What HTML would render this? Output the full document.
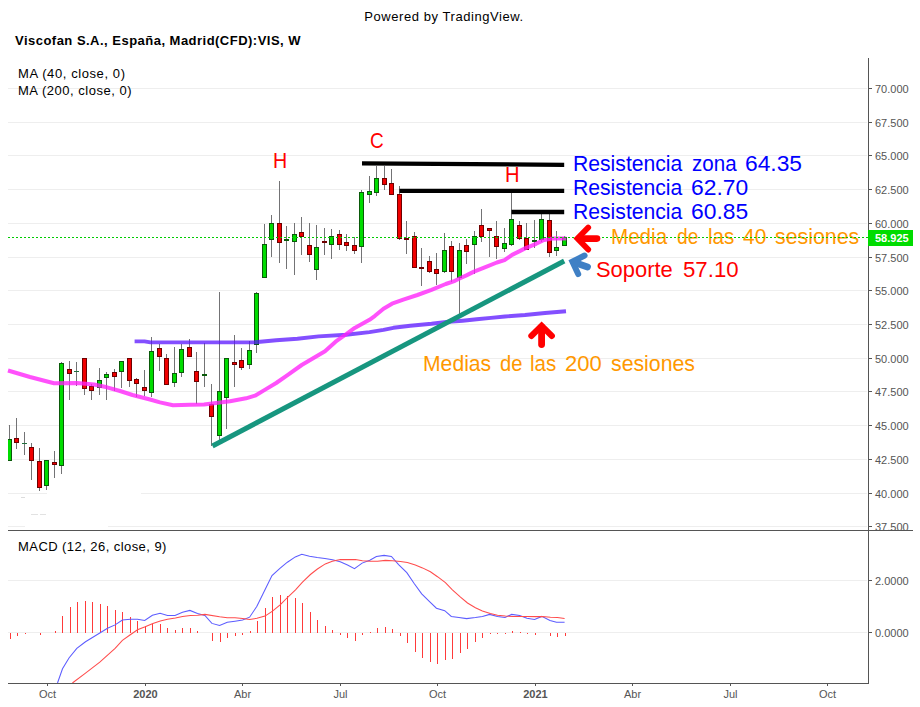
<!DOCTYPE html>
<html><head><meta charset="utf-8"><title>chart</title>
<style>
html,body{margin:0;padding:0;background:#fff;}
body{width:920px;height:707px;position:relative;overflow:hidden;font-family:"Liberation Sans",sans-serif;}
svg{position:absolute;left:0;top:0;}
.t{position:absolute;white-space:nowrap;line-height:1;}
.pl{position:absolute;left:875px;font-size:11px;color:#555;line-height:14px;height:14px;}
.tl{position:absolute;top:688px;width:61px;text-align:center;font-size:11px;color:#555;line-height:13px;}
.an{position:absolute;white-space:nowrap;line-height:1;font-size:21.8px;transform-origin:0 0;}
</style></head><body>
<svg width="920" height="707" viewBox="0 0 920 707" shape-rendering="crispEdges">
<rect x="8" y="88.0" width="859" height="1" fill="#eeeeee"/>
<rect x="868" y="88.0" width="4" height="1" fill="#555"/>
<rect x="8" y="122.0" width="859" height="1" fill="#eeeeee"/>
<rect x="868" y="122.0" width="4" height="1" fill="#555"/>
<rect x="8" y="155.0" width="859" height="1" fill="#eeeeee"/>
<rect x="868" y="155.0" width="4" height="1" fill="#555"/>
<rect x="8" y="189.0" width="859" height="1" fill="#eeeeee"/>
<rect x="868" y="189.0" width="4" height="1" fill="#555"/>
<rect x="8" y="223.0" width="859" height="1" fill="#eeeeee"/>
<rect x="868" y="223.0" width="4" height="1" fill="#555"/>
<rect x="8" y="257.0" width="859" height="1" fill="#eeeeee"/>
<rect x="868" y="257.0" width="4" height="1" fill="#555"/>
<rect x="8" y="290.0" width="859" height="1" fill="#eeeeee"/>
<rect x="868" y="290.0" width="4" height="1" fill="#555"/>
<rect x="8" y="324.0" width="859" height="1" fill="#eeeeee"/>
<rect x="868" y="324.0" width="4" height="1" fill="#555"/>
<rect x="8" y="358.0" width="859" height="1" fill="#eeeeee"/>
<rect x="868" y="358.0" width="4" height="1" fill="#555"/>
<rect x="8" y="391.0" width="859" height="1" fill="#eeeeee"/>
<rect x="868" y="391.0" width="4" height="1" fill="#555"/>
<rect x="8" y="425.0" width="859" height="1" fill="#eeeeee"/>
<rect x="868" y="425.0" width="4" height="1" fill="#555"/>
<rect x="8" y="459.0" width="859" height="1" fill="#eeeeee"/>
<rect x="868" y="459.0" width="4" height="1" fill="#555"/>
<rect x="8" y="493.0" width="859" height="1" fill="#eeeeee"/>
<rect x="868" y="493.0" width="4" height="1" fill="#555"/>
<rect x="8" y="526.0" width="859" height="1" fill="#eeeeee"/>
<rect x="868" y="526.0" width="4" height="1" fill="#555"/>
<rect x="8" y="580.0" width="859" height="1" fill="#eeeeee"/>
<rect x="868" y="580.0" width="4" height="1" fill="#555"/>
<rect x="8" y="632.0" width="859" height="1" fill="#eeeeee"/>
<rect x="868" y="632.0" width="4" height="1" fill="#555"/>
<rect x="47" y="492" width="94" height="3" fill="#fff"/>
<rect x="25" y="525" width="83" height="3" fill="#fff"/>
<rect x="21" y="497" width="4" height="1" fill="#dcdcdc"/>
<rect x="31" y="514" width="7" height="1" fill="#e2e2e2"/><rect x="40" y="514" width="6" height="1" fill="#e2e2e2"/>
</svg>
<svg width="920" height="707" viewBox="0 0 920 707">
<clipPath id="cp"><rect x="8" y="58" width="860" height="472"/></clipPath>
<g shape-rendering="crispEdges" clip-path="url(#cp)">
<rect x="9" y="425" width="1" height="35" fill="#737375"/>
<rect x="7.5" y="439.5" width="4" height="21" fill="#00dc00" stroke="#0a5a0a" stroke-width="1"/>
<rect x="16" y="418" width="1" height="31" fill="#737375"/>
<rect x="14.5" y="438.5" width="4" height="4" fill="#f00000" stroke="#6e0000" stroke-width="1"/>
<rect x="24" y="432" width="1" height="23" fill="#737375"/>
<rect x="22" y="443" width="5" height="1" fill="#1e6e3c"/>
<rect x="31" y="443" width="1" height="37" fill="#737375"/>
<rect x="29.5" y="447.5" width="4" height="13" fill="#f00000" stroke="#6e0000" stroke-width="1"/>
<rect x="39" y="448" width="1" height="43" fill="#737375"/>
<rect x="37.5" y="461.5" width="4" height="26" fill="#f00000" stroke="#6e0000" stroke-width="1"/>
<rect x="46" y="460" width="1" height="30" fill="#737375"/>
<rect x="44.5" y="460.5" width="4" height="25" fill="#00dc00" stroke="#0a5a0a" stroke-width="1"/>
<rect x="54" y="451" width="1" height="27" fill="#737375"/>
<rect x="52.5" y="462.5" width="4" height="2" fill="#f00000" stroke="#6e0000" stroke-width="1"/>
<rect x="61" y="362" width="1" height="112" fill="#737375"/>
<rect x="59.5" y="363.5" width="4" height="102" fill="#00dc00" stroke="#0a5a0a" stroke-width="1"/>
<rect x="69" y="361" width="1" height="39" fill="#737375"/>
<rect x="67.5" y="369.5" width="4" height="4" fill="#f00000" stroke="#6e0000" stroke-width="1"/>
<rect x="76" y="362" width="1" height="24" fill="#737375"/>
<rect x="74" y="371" width="5" height="1" fill="#1e6e3c"/>
<rect x="84" y="358" width="1" height="37" fill="#737375"/>
<rect x="82.5" y="358.5" width="4" height="30" fill="#f00000" stroke="#6e0000" stroke-width="1"/>
<rect x="91" y="384" width="1" height="16" fill="#737375"/>
<rect x="89.5" y="386.5" width="4" height="4" fill="#f00000" stroke="#6e0000" stroke-width="1"/>
<rect x="99" y="368" width="1" height="27" fill="#737375"/>
<rect x="97.5" y="380.5" width="4" height="7" fill="#00dc00" stroke="#0a5a0a" stroke-width="1"/>
<rect x="106" y="372" width="1" height="28" fill="#737375"/>
<rect x="104.5" y="374.5" width="4" height="3" fill="#00dc00" stroke="#0a5a0a" stroke-width="1"/>
<rect x="114" y="369" width="1" height="22" fill="#737375"/>
<rect x="112.5" y="372.5" width="4" height="4" fill="#f00000" stroke="#6e0000" stroke-width="1"/>
<rect x="121" y="361" width="1" height="27" fill="#737375"/>
<rect x="119.5" y="361.5" width="4" height="10" fill="#00dc00" stroke="#0a5a0a" stroke-width="1"/>
<rect x="129" y="358" width="1" height="29" fill="#737375"/>
<rect x="127.5" y="358.5" width="4" height="22" fill="#f00000" stroke="#6e0000" stroke-width="1"/>
<rect x="136" y="378" width="1" height="19" fill="#737375"/>
<rect x="134.5" y="379.5" width="4" height="4" fill="#f00000" stroke="#6e0000" stroke-width="1"/>
<rect x="144" y="370" width="1" height="26" fill="#737375"/>
<rect x="142.5" y="387.5" width="4" height="3" fill="#f00000" stroke="#6e0000" stroke-width="1"/>
<rect x="151" y="337" width="1" height="60" fill="#737375"/>
<rect x="149.5" y="351.5" width="4" height="41" fill="#00dc00" stroke="#0a5a0a" stroke-width="1"/>
<rect x="159" y="344" width="1" height="27" fill="#737375"/>
<rect x="157.5" y="348.5" width="4" height="8" fill="#f00000" stroke="#6e0000" stroke-width="1"/>
<rect x="166" y="354" width="1" height="31" fill="#737375"/>
<rect x="164.5" y="358.5" width="4" height="26" fill="#f00000" stroke="#6e0000" stroke-width="1"/>
<rect x="174" y="347" width="1" height="40" fill="#737375"/>
<rect x="172.5" y="373.5" width="4" height="9" fill="#00dc00" stroke="#0a5a0a" stroke-width="1"/>
<rect x="181" y="344" width="1" height="33" fill="#737375"/>
<rect x="179.5" y="349.5" width="4" height="23" fill="#00dc00" stroke="#0a5a0a" stroke-width="1"/>
<rect x="189" y="339" width="1" height="18" fill="#737375"/>
<rect x="187.5" y="347.5" width="4" height="9" fill="#f00000" stroke="#6e0000" stroke-width="1"/>
<rect x="196" y="352" width="1" height="52" fill="#737375"/>
<rect x="194.5" y="371.5" width="4" height="10" fill="#f00000" stroke="#6e0000" stroke-width="1"/>
<rect x="204" y="343" width="1" height="44" fill="#737375"/>
<rect x="202.5" y="374.5" width="4" height="1" fill="#00dc00" stroke="#0a5a0a" stroke-width="1"/>
<rect x="211" y="384" width="1" height="62" fill="#737375"/>
<rect x="209.5" y="404.5" width="4" height="12" fill="#f00000" stroke="#6e0000" stroke-width="1"/>
<rect x="219" y="292" width="1" height="149" fill="#737375"/>
<rect x="217.5" y="391.5" width="4" height="44" fill="#00dc00" stroke="#0a5a0a" stroke-width="1"/>
<rect x="226" y="358" width="1" height="71" fill="#737375"/>
<rect x="224.5" y="358.5" width="4" height="39" fill="#00dc00" stroke="#0a5a0a" stroke-width="1"/>
<rect x="234" y="335" width="1" height="52" fill="#737375"/>
<rect x="232.5" y="362.5" width="4" height="2" fill="#f00000" stroke="#6e0000" stroke-width="1"/>
<rect x="241" y="348" width="1" height="22" fill="#737375"/>
<rect x="239.5" y="360.5" width="4" height="7" fill="#f00000" stroke="#6e0000" stroke-width="1"/>
<rect x="249" y="341" width="1" height="28" fill="#737375"/>
<rect x="247.5" y="350.5" width="4" height="14" fill="#00dc00" stroke="#0a5a0a" stroke-width="1"/>
<rect x="256" y="292" width="1" height="61" fill="#737375"/>
<rect x="254.5" y="293.5" width="4" height="51" fill="#00dc00" stroke="#0a5a0a" stroke-width="1"/>
<rect x="264" y="224" width="1" height="54" fill="#737375"/>
<rect x="262.5" y="244.5" width="4" height="33" fill="#00dc00" stroke="#0a5a0a" stroke-width="1"/>
<rect x="271" y="215" width="1" height="42" fill="#737375"/>
<rect x="269.5" y="223.5" width="4" height="16" fill="#00dc00" stroke="#0a5a0a" stroke-width="1"/>
<rect x="279" y="181" width="1" height="82" fill="#737375"/>
<rect x="277.5" y="223.5" width="4" height="19" fill="#f00000" stroke="#6e0000" stroke-width="1"/>
<rect x="286" y="226" width="1" height="43" fill="#737375"/>
<rect x="284.5" y="239.5" width="4" height="1" fill="#00dc00" stroke="#0a5a0a" stroke-width="1"/>
<rect x="294" y="223" width="1" height="52" fill="#737375"/>
<rect x="292.5" y="234.5" width="4" height="7" fill="#00dc00" stroke="#0a5a0a" stroke-width="1"/>
<rect x="301" y="217" width="1" height="38" fill="#737375"/>
<rect x="299.5" y="232.5" width="4" height="4" fill="#f00000" stroke="#6e0000" stroke-width="1"/>
<rect x="309" y="223" width="1" height="39" fill="#737375"/>
<rect x="307.5" y="245.5" width="4" height="9" fill="#f00000" stroke="#6e0000" stroke-width="1"/>
<rect x="316" y="225" width="1" height="55" fill="#737375"/>
<rect x="314.5" y="247.5" width="4" height="22" fill="#00dc00" stroke="#0a5a0a" stroke-width="1"/>
<rect x="324" y="228" width="1" height="27" fill="#737375"/>
<rect x="322.5" y="241.5" width="4" height="1" fill="#f00000" stroke="#6e0000" stroke-width="1"/>
<rect x="331" y="229" width="1" height="30" fill="#737375"/>
<rect x="329.5" y="236.5" width="4" height="8" fill="#00dc00" stroke="#0a5a0a" stroke-width="1"/>
<rect x="339" y="230" width="1" height="20" fill="#737375"/>
<rect x="337.5" y="234.5" width="4" height="10" fill="#f00000" stroke="#6e0000" stroke-width="1"/>
<rect x="346" y="234" width="1" height="17" fill="#737375"/>
<rect x="344.5" y="242.5" width="4" height="3" fill="#f00000" stroke="#6e0000" stroke-width="1"/>
<rect x="354" y="237" width="1" height="17" fill="#737375"/>
<rect x="352.5" y="245.5" width="4" height="5" fill="#f00000" stroke="#6e0000" stroke-width="1"/>
<rect x="361" y="190" width="1" height="73" fill="#737375"/>
<rect x="359.5" y="192.5" width="4" height="54" fill="#00dc00" stroke="#0a5a0a" stroke-width="1"/>
<rect x="369" y="176" width="1" height="27" fill="#737375"/>
<rect x="367.5" y="191.5" width="4" height="3" fill="#00dc00" stroke="#0a5a0a" stroke-width="1"/>
<rect x="376" y="166" width="1" height="30" fill="#737375"/>
<rect x="374.5" y="178.5" width="4" height="14" fill="#00dc00" stroke="#0a5a0a" stroke-width="1"/>
<rect x="384" y="166" width="1" height="24" fill="#737375"/>
<rect x="382.5" y="178.5" width="4" height="6" fill="#f00000" stroke="#6e0000" stroke-width="1"/>
<rect x="391" y="169" width="1" height="26" fill="#737375"/>
<rect x="389.5" y="183.5" width="4" height="11" fill="#f00000" stroke="#6e0000" stroke-width="1"/>
<rect x="399" y="186" width="1" height="54" fill="#737375"/>
<rect x="397.5" y="194.5" width="4" height="44" fill="#f00000" stroke="#6e0000" stroke-width="1"/>
<rect x="406" y="221" width="1" height="33" fill="#737375"/>
<rect x="404.5" y="238.5" width="4" height="1" fill="#f00000" stroke="#6e0000" stroke-width="1"/>
<rect x="414" y="232" width="1" height="36" fill="#737375"/>
<rect x="412.5" y="236.5" width="4" height="31" fill="#f00000" stroke="#6e0000" stroke-width="1"/>
<rect x="421" y="248" width="1" height="38" fill="#737375"/>
<rect x="419.5" y="267.5" width="4" height="1" fill="#f00000" stroke="#6e0000" stroke-width="1"/>
<rect x="429" y="256" width="1" height="17" fill="#737375"/>
<rect x="427.5" y="261.5" width="4" height="10" fill="#f00000" stroke="#6e0000" stroke-width="1"/>
<rect x="436" y="253" width="1" height="32" fill="#737375"/>
<rect x="434.5" y="269.5" width="4" height="4" fill="#f00000" stroke="#6e0000" stroke-width="1"/>
<rect x="444" y="233" width="1" height="40" fill="#737375"/>
<rect x="442.5" y="250.5" width="4" height="21" fill="#00dc00" stroke="#0a5a0a" stroke-width="1"/>
<rect x="451" y="241" width="1" height="41" fill="#737375"/>
<rect x="449.5" y="246.5" width="4" height="25" fill="#f00000" stroke="#6e0000" stroke-width="1"/>
<rect x="459" y="243" width="1" height="71" fill="#737375"/>
<rect x="457.5" y="250.5" width="4" height="27" fill="#00dc00" stroke="#0a5a0a" stroke-width="1"/>
<rect x="466" y="239" width="1" height="25" fill="#737375"/>
<rect x="464.5" y="245.5" width="4" height="6" fill="#f00000" stroke="#6e0000" stroke-width="1"/>
<rect x="474" y="231" width="1" height="43" fill="#737375"/>
<rect x="472.5" y="236.5" width="4" height="8" fill="#00dc00" stroke="#0a5a0a" stroke-width="1"/>
<rect x="481" y="209" width="1" height="33" fill="#737375"/>
<rect x="479.5" y="225.5" width="4" height="11" fill="#f00000" stroke="#6e0000" stroke-width="1"/>
<rect x="489" y="228" width="1" height="29" fill="#737375"/>
<rect x="487.5" y="228.5" width="4" height="2" fill="#f00000" stroke="#6e0000" stroke-width="1"/>
<rect x="496" y="221" width="1" height="38" fill="#737375"/>
<rect x="494.5" y="236.5" width="4" height="10" fill="#f00000" stroke="#6e0000" stroke-width="1"/>
<rect x="504" y="228" width="1" height="24" fill="#737375"/>
<rect x="502.5" y="243.5" width="4" height="5" fill="#00dc00" stroke="#0a5a0a" stroke-width="1"/>
<rect x="511" y="193" width="1" height="53" fill="#737375"/>
<rect x="509.5" y="219.5" width="4" height="25" fill="#00dc00" stroke="#0a5a0a" stroke-width="1"/>
<rect x="519" y="221" width="1" height="19" fill="#737375"/>
<rect x="517.5" y="225.5" width="4" height="13" fill="#f00000" stroke="#6e0000" stroke-width="1"/>
<rect x="526" y="223" width="1" height="27" fill="#737375"/>
<rect x="524.5" y="238.5" width="4" height="11" fill="#f00000" stroke="#6e0000" stroke-width="1"/>
<rect x="534" y="220" width="1" height="28" fill="#737375"/>
<rect x="532.5" y="240.5" width="4" height="1" fill="#00dc00" stroke="#0a5a0a" stroke-width="1"/>
<rect x="541" y="214" width="1" height="28" fill="#737375"/>
<rect x="539.5" y="219.5" width="4" height="20" fill="#00dc00" stroke="#0a5a0a" stroke-width="1"/>
<rect x="549" y="214" width="1" height="43" fill="#737375"/>
<rect x="547.5" y="220.5" width="4" height="32" fill="#f00000" stroke="#6e0000" stroke-width="1"/>
<rect x="556" y="231" width="1" height="25" fill="#737375"/>
<rect x="554.5" y="247.5" width="4" height="3" fill="#00dc00" stroke="#0a5a0a" stroke-width="1"/>
<rect x="564" y="236" width="1" height="10" fill="#737375"/>
<rect x="562.5" y="237.5" width="4" height="8" fill="#00dc00" stroke="#0a5a0a" stroke-width="1"/>
</g>
<polyline points="134.6,341.4 144.5,341.4 150.5,342.4 200,342.4 255,342.3 276.2,340.2 297.4,338.7 318.6,336.4 346.2,334.7 369.5,332.1 383.5,329.9 393.4,327.8 410.3,325.7 431.5,323.8 448.5,321.8 462.6,320.7 476.7,319.3 490.9,317.9 505,316.5 525,315 545,313 566,311.2" fill="none" stroke="#5a14ff" stroke-opacity="0.75" stroke-width="3.9" stroke-linejoin="round"/>
<polyline points="8,370.5 30,377 54,383.3 77,383 94,384.5 107,387.3 120,391 132.5,395 150,399.5 160,402.4 173,405.2 190,404.8 204,404.4 230,401.3 246,398.3 255,395.7 265.6,389.4 276.2,383 286.8,375.6 301.7,365 325,351.2 335.6,341.7 346.2,334.2 354.7,327.9 369.5,319.8 375,315.8 383.5,308.7 392,303.7 403.3,299.6 417.4,295 431.5,289.8 445.7,284 455,280.8 459.6,278.5 466.4,275.4 474,271.6 485.4,267.1 496.9,262.5 504.5,260.2 512.1,254.9 519.7,251.1 525,248.4 536.1,243.8 542.9,240.4 552,238.6 566.3,238.4" fill="none" stroke="#ff20fa" stroke-opacity="0.78" stroke-width="4" stroke-linejoin="round"/>
<line x1="212.5" y1="446" x2="564.2" y2="261" stroke="#17967f" stroke-width="5"/>
<line x1="362" y1="163.3" x2="564.2" y2="164.8" stroke="#000" stroke-width="4.3"/>
<line x1="399.5" y1="190.9" x2="564.2" y2="190.9" stroke="#000" stroke-width="4.3"/>
<line x1="511.5" y1="212" x2="564.2" y2="212" stroke="#000" stroke-width="4.3"/>
<g id="arrL" fill="none" stroke="#ff0000" stroke-linecap="round" stroke-linejoin="miter">
<polyline points="588.2,227.6 577.5,238.6 588.2,249.6" stroke-width="5.8"/>
<line x1="579" y1="238.6" x2="597" y2="238.6" stroke-width="6.6"/>
</g>
<g fill="none" stroke="#3f80c5" stroke-linecap="round" stroke-linejoin="miter" transform="translate(-4.9,21.9) rotate(19 573.8 238.6)">
<polyline points="587,228.8 577.5,238.6 587,248.4" stroke-width="6"/>
<line x1="579" y1="238.6" x2="593.5" y2="238.6" stroke-width="6.8"/>
</g>
<g fill="none" stroke="#ff0000" stroke-linecap="round" stroke-linejoin="miter">
<polyline points="531.3,336 541.6,325.8 551.9,336" stroke-width="6"/>
<line x1="541.6" y1="327" x2="541.6" y2="344.6" stroke-width="6.8"/>
</g>
<g shape-rendering="crispEdges">
<rect x="10" y="632.9" width="1" height="5.9" fill="#ff3a3a"/>
<rect x="17" y="632.9" width="1" height="3.0" fill="#ff3a3a"/>
<rect x="25" y="632.9" width="1" height="1.3" fill="#ff3a3a"/>
<rect x="40" y="632.9" width="1" height="2.0" fill="#ff3a3a"/>
<rect x="55" y="631.1" width="1" height="1.8" fill="#ff3a3a"/>
<rect x="62" y="616.2" width="1" height="16.7" fill="#ff3a3a"/>
<rect x="70" y="607.0" width="1" height="25.9" fill="#ff3a3a"/>
<rect x="77" y="602.2" width="1" height="30.7" fill="#ff3a3a"/>
<rect x="85" y="600.9" width="1" height="32.0" fill="#ff3a3a"/>
<rect x="92" y="602.0" width="1" height="30.9" fill="#ff3a3a"/>
<rect x="100" y="604.2" width="1" height="28.7" fill="#ff3a3a"/>
<rect x="107" y="605.9" width="1" height="27.0" fill="#ff3a3a"/>
<rect x="115" y="610.1" width="1" height="22.8" fill="#ff3a3a"/>
<rect x="122" y="612.1" width="1" height="20.8" fill="#ff3a3a"/>
<rect x="130" y="617.3" width="1" height="15.6" fill="#ff3a3a"/>
<rect x="137" y="621.1" width="1" height="11.8" fill="#ff3a3a"/>
<rect x="145" y="626.1" width="1" height="6.8" fill="#ff3a3a"/>
<rect x="152" y="623.9" width="1" height="9.0" fill="#ff3a3a"/>
<rect x="160" y="623.9" width="1" height="9.0" fill="#ff3a3a"/>
<rect x="167" y="628.1" width="1" height="4.8" fill="#ff3a3a"/>
<rect x="175" y="630.0" width="1" height="2.9" fill="#ff3a3a"/>
<rect x="182" y="628.1" width="1" height="4.8" fill="#ff3a3a"/>
<rect x="190" y="628.1" width="1" height="4.8" fill="#ff3a3a"/>
<rect x="197" y="631.1" width="1" height="1.8" fill="#ff3a3a"/>
<rect x="212" y="632.9" width="1" height="7.9" fill="#ff3a3a"/>
<rect x="220" y="632.9" width="1" height="9.0" fill="#ff3a3a"/>
<rect x="227" y="632.9" width="1" height="4.8" fill="#ff3a3a"/>
<rect x="235" y="632.9" width="1" height="3.0" fill="#ff3a3a"/>
<rect x="242" y="632.9" width="1" height="2.0" fill="#ff3a3a"/>
<rect x="250" y="631.1" width="1" height="1.8" fill="#ff3a3a"/>
<rect x="257" y="621.3" width="1" height="11.6" fill="#ff3a3a"/>
<rect x="265" y="608.1" width="1" height="24.8" fill="#ff3a3a"/>
<rect x="272" y="597.2" width="1" height="35.7" fill="#ff3a3a"/>
<rect x="280" y="595.0" width="1" height="37.9" fill="#ff3a3a"/>
<rect x="287" y="596.1" width="1" height="36.8" fill="#ff3a3a"/>
<rect x="295" y="598.3" width="1" height="34.6" fill="#ff3a3a"/>
<rect x="302" y="603.1" width="1" height="29.8" fill="#ff3a3a"/>
<rect x="310" y="612.1" width="1" height="20.8" fill="#ff3a3a"/>
<rect x="317" y="620.2" width="1" height="12.7" fill="#ff3a3a"/>
<rect x="325" y="626.1" width="1" height="6.8" fill="#ff3a3a"/>
<rect x="332" y="630.0" width="1" height="2.9" fill="#ff3a3a"/>
<rect x="340" y="632.9" width="1" height="2.0" fill="#ff3a3a"/>
<rect x="347" y="632.9" width="1" height="4.8" fill="#ff3a3a"/>
<rect x="355" y="632.9" width="1" height="7.9" fill="#ff3a3a"/>
<rect x="362" y="632.9" width="1" height="2.0" fill="#ff3a3a"/>
<rect x="370" y="632.0" width="1" height="0.9" fill="#ff3a3a"/>
<rect x="377" y="628.1" width="1" height="4.8" fill="#ff3a3a"/>
<rect x="385" y="627.2" width="1" height="5.7" fill="#ff3a3a"/>
<rect x="392" y="629.4" width="1" height="3.5" fill="#ff3a3a"/>
<rect x="400" y="632.9" width="1" height="3.0" fill="#ff3a3a"/>
<rect x="407" y="632.9" width="1" height="10.0" fill="#ff3a3a"/>
<rect x="415" y="632.9" width="1" height="19.0" fill="#ff3a3a"/>
<rect x="422" y="632.9" width="1" height="25.0" fill="#ff3a3a"/>
<rect x="430" y="632.9" width="1" height="29.0" fill="#ff3a3a"/>
<rect x="437" y="632.9" width="1" height="31.0" fill="#ff3a3a"/>
<rect x="445" y="632.9" width="1" height="27.2" fill="#ff3a3a"/>
<rect x="452" y="632.9" width="1" height="26.0" fill="#ff3a3a"/>
<rect x="460" y="632.9" width="1" height="20.0" fill="#ff3a3a"/>
<rect x="467" y="632.9" width="1" height="16.0" fill="#ff3a3a"/>
<rect x="475" y="632.9" width="1" height="9.0" fill="#ff3a3a"/>
<rect x="482" y="632.9" width="1" height="4.8" fill="#ff3a3a"/>
<rect x="490" y="632.9" width="1" height="1.1" fill="#ff3a3a"/>
<rect x="497" y="632.9" width="1" height="1.1" fill="#ff3a3a"/>
<rect x="505" y="632.9" width="1" height="1.1" fill="#ff3a3a"/>
<rect x="512" y="631.1" width="1" height="1.8" fill="#ff3a3a"/>
<rect x="520" y="632.2" width="1" height="0.7" fill="#ff3a3a"/>
<rect x="527" y="632.9" width="1" height="1.1" fill="#ff3a3a"/>
<rect x="535" y="632.9" width="1" height="2.0" fill="#ff3a3a"/>
<rect x="550" y="632.9" width="1" height="3.0" fill="#ff3a3a"/>
<rect x="557" y="632.9" width="1" height="4.2" fill="#ff3a3a"/>
<rect x="565" y="632.9" width="1" height="3.0" fill="#ff3a3a"/>
</g>
<polyline points="57.5,683 62.5,668.8 69,658 76.8,648.4 85.5,641.8 99.8,633 107.5,628.2 115.1,624.9 122.4,620.1 130.3,619.2 137.5,619.2 144.7,620.5 152.4,615.3 160.1,613.3 167.5,615.5 175,615.5 182.5,612.2 189.9,610.4 197.5,613.5 204.9,615.5 211.9,623.4 219.6,625.4 227.3,622.3 235,621.2 242.6,620.1 249.6,617.2 256.9,606.3 265,589.8 272,575.6 279.9,568.3 287.4,562.2 295.3,556.9 301.8,554.3 309.5,556.3 317.2,557.6 324.9,558.5 332.5,559.8 340.2,561.8 347.5,565 354.5,568.6 362.1,563.1 369.8,560.2 376.4,556.5 384.1,555.4 391.4,556.5 398.6,564.6 406.8,572.7 414,583.2 421.7,593.8 429.3,601.4 436.4,608.2 444.7,610.7 451.3,616.4 458.9,617.5 466.6,618.6 475.4,617.5 482.4,616.4 489.6,614.4 497.5,616.4 505,617.5 511.6,614.4 519.7,615.5 526.9,618.3 534.6,619.4 541.8,616.4 550,620.5 556.5,622.3 564.6,622.3" fill="none" stroke="#5c5cff" stroke-width="1.05"/>
<polyline points="72.4,683 85.5,673.2 99.8,662.2 115.1,648.4 122.4,640.3 130.3,634.8 137.5,629.7 145.2,626.7 152.9,623.4 160.3,621 167.5,619.2 175.4,617.9 182.5,616.4 190.4,615.5 197.6,615.3 204.9,614.4 219.6,616.8 227.3,617.7 235,617.7 242.6,618.6 249.6,619.4 256.9,618.3 265,616.1 272.5,611.1 280.4,604.7 287.4,597.5 295.5,589.8 302.5,582.1 310.4,574.5 317.4,569 325.3,563.9 332.3,561.3 340.4,559.6 347.5,559.6 355.4,559.6 362.4,560.7 370.3,561.3 377.5,561.3 385.5,560.4 392.5,560.7 400.4,561.5 407.4,562.6 415.3,565 422.5,567.9 430.4,571.8 437.5,576.7 445.4,582.6 452.4,589.8 460.5,597.1 467.5,603 475.4,607.8 482.4,610.9 490.3,613.5 497.5,615.3 505.4,616.1 512.5,616.4 520.4,616.4 527.4,616.4 535.5,616.6 542.5,616.6 550.4,617.2 557.4,617.5 564.6,618.6" fill="none" stroke="#ff4c4c" stroke-width="1.05"/>
<g shape-rendering="crispEdges">
<rect x="868" y="58" width="1" height="626" fill="#555"/>
<rect x="8" y="530" width="905" height="1" fill="#555"/>
<rect x="8" y="683" width="861" height="1" fill="#555"/>
<rect x="47" y="683" width="1" height="3" fill="#555"/><rect x="145" y="683" width="1" height="3" fill="#555"/><rect x="242" y="683" width="1" height="3" fill="#555"/><rect x="340" y="683" width="1" height="3" fill="#555"/><rect x="437" y="683" width="1" height="3" fill="#555"/><rect x="535" y="683" width="1" height="3" fill="#555"/><rect x="632" y="683" width="1" height="3" fill="#555"/><rect x="730" y="683" width="1" height="3" fill="#555"/><rect x="827" y="683" width="1" height="3" fill="#555"/>
</g>
</svg>
<div style="position:absolute;left:869px;top:60px;width:51px;height:470px;overflow:hidden;"><div style="position:absolute;left:-869px;top:-60px;">
<div class="pl" style="top:81.5px">70.000</div>
<div class="pl" style="top:115.5px">67.500</div>
<div class="pl" style="top:148.5px">65.000</div>
<div class="pl" style="top:182.5px">62.500</div>
<div class="pl" style="top:216.5px">60.000</div>
<div class="pl" style="top:250.5px">57.500</div>
<div class="pl" style="top:283.5px">55.000</div>
<div class="pl" style="top:317.5px">52.500</div>
<div class="pl" style="top:351.5px">50.000</div>
<div class="pl" style="top:384.5px">47.500</div>
<div class="pl" style="top:418.5px">45.000</div>
<div class="pl" style="top:452.5px">42.500</div>
<div class="pl" style="top:486.5px">40.000</div>
<div class="pl" style="top:519.5px">37.500</div>
</div></div>
<div class="pl" style="top:573.5px">2.0000</div>
<div class="pl" style="top:625.5px">0.0000</div>
<div style="position:absolute;left:868px;top:230px;width:45px;height:16px;background:#00dc00;"></div>
<div class="t" style="left:875px;top:232px;font-size:11px;font-weight:bold;color:#fff;line-height:13px;">58.925</div>
<div class="tl" style="left:17px;">Oct</div><div class="tl" style="left:115px;font-weight:bold;">2020</div><div class="tl" style="left:212px;">Abr</div><div class="tl" style="left:310px;">Jul</div><div class="tl" style="left:407px;">Oct</div><div class="tl" style="left:505px;font-weight:bold;">2021</div><div class="tl" style="left:602px;">Abr</div><div class="tl" style="left:700px;">Jul</div><div class="tl" style="left:797px;">Oct</div>
<div class="t" style="left:0;width:888px;text-align:center;top:10px;font-size:13px;letter-spacing:0.57px;color:#000;">Powered by TradingView.</div>
<div class="t" style="left:15px;top:34px;font-size:13px;font-weight:bold;letter-spacing:0.48px;color:#000;" id="title">Viscofan S.A., España, Madrid(CFD):VIS, W</div>
<div class="t" style="left:18px;top:67px;font-size:13px;letter-spacing:0.59px;color:#000;" id="ma40">MA (40, close, 0)</div>
<div class="t" style="left:18px;top:84px;font-size:13px;letter-spacing:0.52px;color:#000;" id="ma200">MA (200, close, 0)</div>
<div class="t" style="left:18px;top:540px;font-size:13px;letter-spacing:0.44px;color:#000;" id="macd">MACD (12, 26, close, 9)</div>
<div class="an" style="transform:scaleX(0.9703);left:572.63px;top:152.55px;color:#0000ff;">Resistencia</div>
<div class="an" style="transform:scaleX(0.943);left:691.7px;top:152.55px;color:#0000ff;">zona</div>
<div class="an" style="transform:scaleX(1.0445);left:745.46px;top:152.55px;color:#0000ff;">64.35</div>
<div class="an" style="transform:scaleX(0.9703);left:572.63px;top:177.15px;color:#0000ff;">Resistencia</div>
<div class="an" style="transform:scaleX(1.0482);left:691.15px;top:177.15px;color:#0000ff;">62.70</div>
<div class="an" style="transform:scaleX(0.9703);left:572.63px;top:201.45px;color:#0000ff;">Resistencia</div>
<div class="an" style="transform:scaleX(1.0482);left:691.15px;top:201.45px;color:#0000ff;">60.85</div>
<div class="an" style="transform:scaleX(0.9452);left:610.55px;top:226.35px;color:#ff9800;">Media</div>
<div class="an" style="transform:scaleX(0.8789);left:677.2px;top:226.35px;color:#ff9800;">de</div>
<div class="an" style="transform:scaleX(0.9457);left:707.75px;top:226.35px;color:#ff9800;">las</div>
<div class="an" style="transform:scaleX(0.9618);left:742.6px;top:226.35px;color:#ff9800;">40</div>
<div class="an" style="transform:scaleX(0.9788);left:775.2px;top:226.35px;color:#ff9800;">sesiones</div>
<div class="an" style="transform:scaleX(1.005);left:596.2px;top:259.35px;color:#ff0000;">Soporte</div>
<div class="an" style="transform:scaleX(1.0198);left:682.6px;top:259.35px;color:#ff0000;">57.10</div>
<div class="an" style="transform:scaleX(0.9702);left:422.53px;top:353.35px;color:#ff9800;">Medias</div>
<div class="an" style="transform:scaleX(0.9245);left:499.5px;top:353.35px;color:#ff9800;">de</div>
<div class="an" style="transform:scaleX(0.942);left:530.16px;top:353.35px;color:#ff9800;">las</div>
<div class="an" style="transform:scaleX(1.0101);left:564.79px;top:353.35px;color:#ff9800;">200</div>
<div class="an" style="transform:scaleX(0.9764);left:610.7px;top:353.35px;color:#ff9800;">sesiones</div>
<div class="an" style="transform:scaleX(0.9);left:272.8px;top:150.35px;color:#ff0000;">H</div>
<div class="an" style="transform:scaleX(0.8714);left:370.23px;top:130.45px;color:#ff0000;">C</div>
<div class="an" style="transform:scaleX(0.9231);left:505.48px;top:164.15px;color:#ff0000;">H</div>
<svg width="920" height="707" viewBox="0 0 920 707"><g stroke="#00cc00" stroke-width="1" stroke-dasharray="2,2" shape-rendering="crispEdges"><line x1="8" y1="237.5" x2="574" y2="237.5"/><line x1="602" y1="237.5" x2="868" y2="237.5"/></g></svg>
</body></html>
